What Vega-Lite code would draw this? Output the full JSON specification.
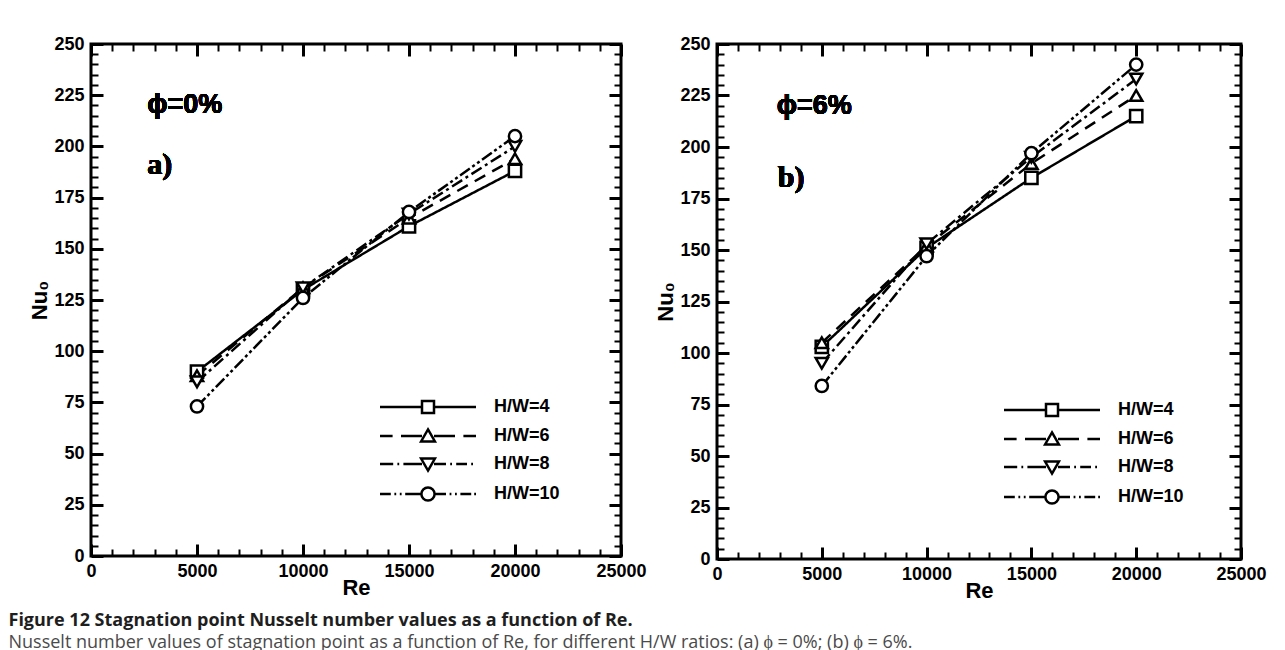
{
  "$schema": "https://vega.github.io/schema/vega-lite/v6.json",
  "padding": {"left": 8, "top": 33, "right": 5, "bottom": 2},
  "background": "white",
  "datasets": {
    "a": [
      {"Re": 5000, "Nu": 90, "HW": "H/W=4"}, {"Re": 10000, "Nu": 130, "HW": "H/W=4"}, {"Re": 15000, "Nu": 161, "HW": "H/W=4"}, {"Re": 20000, "Nu": 188, "HW": "H/W=4"},
      {"Re": 5000, "Nu": 88, "HW": "H/W=6"}, {"Re": 10000, "Nu": 131, "HW": "H/W=6"}, {"Re": 15000, "Nu": 165, "HW": "H/W=6"}, {"Re": 20000, "Nu": 194, "HW": "H/W=6"},
      {"Re": 5000, "Nu": 85, "HW": "H/W=8"}, {"Re": 10000, "Nu": 131, "HW": "H/W=8"}, {"Re": 15000, "Nu": 167, "HW": "H/W=8"}, {"Re": 20000, "Nu": 200, "HW": "H/W=8"},
      {"Re": 5000, "Nu": 73, "HW": "H/W=10"}, {"Re": 10000, "Nu": 126, "HW": "H/W=10"}, {"Re": 15000, "Nu": 168, "HW": "H/W=10"}, {"Re": 20000, "Nu": 205, "HW": "H/W=10"}
    ],
    "b": [
      {"Re": 5000, "Nu": 103, "HW": "H/W=4"}, {"Re": 10000, "Nu": 151, "HW": "H/W=4"}, {"Re": 15000, "Nu": 185, "HW": "H/W=4"}, {"Re": 20000, "Nu": 215, "HW": "H/W=4"},
      {"Re": 5000, "Nu": 105, "HW": "H/W=6"}, {"Re": 10000, "Nu": 152, "HW": "H/W=6"}, {"Re": 15000, "Nu": 192, "HW": "H/W=6"}, {"Re": 20000, "Nu": 225, "HW": "H/W=6"},
      {"Re": 5000, "Nu": 95, "HW": "H/W=8"}, {"Re": 10000, "Nu": 153, "HW": "H/W=8"}, {"Re": 15000, "Nu": 195, "HW": "H/W=8"}, {"Re": 20000, "Nu": 233, "HW": "H/W=8"},
      {"Re": 5000, "Nu": 84, "HW": "H/W=10"}, {"Re": 10000, "Nu": 147, "HW": "H/W=10"}, {"Re": 15000, "Nu": 197, "HW": "H/W=10"}, {"Re": 20000, "Nu": 240, "HW": "H/W=10"}
    ]
  },
  "title": {
    "text": "Figure 12 Stagnation point Nusselt number values as a function of Re.",
    "subtitle": "Nusselt number values of stagnation point as a function of Re, for different H/W ratios: (a) ϕ = 0%; (b) ϕ = 6%.",
    "orient": "bottom", "anchor": "start", "frame": "bounds",
    "font": "Open Sans", "fontSize": 18, "fontWeight": "bold", "color": "#1e1e1e",
    "subtitleFont": "Open Sans", "subtitleFontSize": 18, "subtitleColor": "#4a4a4a", "subtitlePadding": 4,
    "offset": 9
  },
  "bounds": "flush",
  "spacing": 96,
  "hconcat": [
    {
      "width": 530, "height": 512,
      "data": {"name": "a"},
      "resolve": {"axis": {"x": "independent", "y": "independent"}, "scale": {"shape": "independent"}},
      "layer": [
        {
          "mark": {"type": "line", "color": "black", "strokeWidth": 2.5},
          "encoding": {
            "x": {"field": "Re", "type": "quantitative", "scale": {"domain": [0, 25000], "nice": false, "zero": false},
              "axis": {"orient": "bottom", "values": [0, 5000, 10000, 15000, 20000, 25000], "format": "d", "tickSize": -12, "tickWidth": 3, "labelPadding": 18, "title": "Re", "titlePadding": -3, "labelFlush": false, "labelOverlap": false}},
            "y": {"field": "Nu", "type": "quantitative", "scale": {"domain": [0, 250], "nice": false},
              "axis": {"orient": "left", "values": [0, 25, 50, 75, 100, 125, 150, 175, 200, 225, 250], "format": "d", "tickSize": -12, "tickWidth": 3, "labelPadding": 19, "title": "Nu₀", "titlePadding": 2, "labelFlush": false, "labelOverlap": false}},
            "strokeDash": {"field": "HW", "type": "nominal", "scale": {"domain": ["H/W=4", "H/W=6", "H/W=8", "H/W=10"], "range": [[1, 0], [12, 8], [12, 4, 3, 4], [12, 3, 3, 3, 3, 3]]}, "legend": null}
          }
        },
        {
          "mark": {"type": "point", "filled": true, "fill": "white", "stroke": "black", "strokeWidth": 2.5, "size": 150, "opacity": 1},
          "encoding": {
            "x": {"field": "Re", "type": "quantitative", "axis": {"orient": "top", "values": [0, 5000, 10000, 15000, 20000, 25000], "labels": false, "title": null, "tickSize": -12, "tickWidth": 3}},
            "y": {"field": "Nu", "type": "quantitative", "axis": {"orient": "right", "values": [0, 25, 50, 75, 100, 125, 150, 175, 200, 225, 250], "labels": false, "title": null, "tickSize": -12, "tickWidth": 3}},
            "shape": {"field": "HW", "type": "nominal", "scale": {"domain": ["H/W=4", "H/W=6", "H/W=8", "H/W=10"], "range": ["square", "triangle-up", "triangle-down", "circle"]}, "legend": null}
          }
        },
        {
          "mark": {"type": "text", "text": "ϕ=0%", "font": "Liberation Sans", "fontWeight": "bold", "fontSize": 27, "align": "left", "baseline": "middle", "color": "black"},
          "encoding": {
            "x": {"datum": 2650, "type": "quantitative", "axis": {"orient": "bottom", "values": [1000,2000,3000,4000,6000,7000,8000,9000,11000,12000,13000,14000,16000,17000,18000,19000,21000,22000,23000,24000], "labels": false, "title": null, "tickSize": -7, "tickWidth": 2}},
            "y": {"datum": 220, "type": "quantitative", "axis": {"orient": "left", "values": [5,10,15,20,30,35,40,45,55,60,65,70,80,85,90,95,105,110,115,120,130,135,140,145,155,160,165,170,180,185,190,195,205,210,215,220,230,235,240,245], "labels": false, "title": " ", "titleX": -58, "titleY": 256, "tickSize": -7, "tickWidth": 2}}
          }
        },
        {
          "mark": {"type": "text", "text": "a)", "font": "Liberation Serif", "fontWeight": "bold", "fontSize": 30, "align": "left", "baseline": "middle", "color": "black"},
          "encoding": {
            "x": {"datum": 2650, "type": "quantitative", "axis": {"orient": "top", "values": [1000,2000,3000,4000,6000,7000,8000,9000,11000,12000,13000,14000,16000,17000,18000,19000,21000,22000,23000,24000], "labels": false, "title": null, "tickSize": -7, "tickWidth": 2}},
            "y": {"datum": 191, "type": "quantitative", "axis": {"orient": "right", "values": [5,10,15,20,30,35,40,45,55,60,65,70,80,85,90,95,105,110,115,120,130,135,140,145,155,160,165,170,180,185,190,195,205,210,215,220,230,235,240,245], "labels": false, "title": null, "tickSize": -7, "tickWidth": 2}}
          }
        },
        {
          "transform": [{"filter": "false"}],
          "mark": {"type": "point", "filled": false, "color": "black", "size": 144, "strokeWidth": 2.5, "opacity": 1},
          "encoding": {
            "shape": {"field": "HW", "type": "nominal",
              "scale": {"domain": ["H/W=4", "H/W=6", "H/W=8", "H/W=10"],
                "range": [
                  "M-8,0H-1M-1,-1H1V1H-1ZM1,0H8",
                  "M-8,0H-5.9M-4.5,0H-1M0,-1.1L1.15,0.9H-1.15ZM1,0H4.5M5.9,0H8",
                  "M-8,0H-5.8M-5.1,0H-4.8M-4.1,0H-1M0,1.1L1.15,-0.9H-1.15ZM1,0H3M3.7,0H4M4.7,0H6.5M7.2,0H7.5",
                  "M-8,0H-6.2M-5.6,0H-5.3M-4.7,0H-4.4M-3.8,0H-1.1M1.1,0A1.1,1.1 0 1,1 -1.1,0A1.1,1.1 0 1,1 1.1,0M1.1,0H3M3.6,0H3.9M4.5,0H4.8M5.4,0H7.2M7.7,0H8"
                ]},
              "legend": {"orient": "none", "legendX": 280, "legendY": 354, "title": null, "symbolOffset": 48, "labelOffset": 57, "labelFont": "Liberation Sans", "labelFontSize": 18, "labelFontWeight": "bold", "labelColor": "black", "symbolStrokeWidth": 2.5, "symbolStrokeColor": "black", "symbolFillColor": "transparent", "symbolSize": 144, "symbolOpacity": 1, "rowPadding": 6}}
          }
        }
      ]
    },
    {
      "width": 524, "height": 515,
      "data": {"name": "b"},
      "resolve": {"axis": {"x": "independent", "y": "independent"}, "scale": {"shape": "independent"}},
      "layer": [
        {
          "mark": {"type": "line", "color": "black", "strokeWidth": 2.5},
          "encoding": {
            "x": {"field": "Re", "type": "quantitative", "scale": {"domain": [0, 25000], "nice": false, "zero": false},
              "axis": {"orient": "bottom", "values": [0, 5000, 10000, 15000, 20000, 25000], "format": "d", "tickSize": -12, "tickWidth": 3, "labelPadding": 18, "title": "Re", "titlePadding": -3, "labelFlush": false, "labelOverlap": false}},
            "y": {"field": "Nu", "type": "quantitative", "scale": {"domain": [0, 250], "nice": false},
              "axis": {"orient": "left", "values": [0, 25, 50, 75, 100, 125, 150, 175, 200, 225, 250], "format": "d", "tickSize": -12, "tickWidth": 3, "labelPadding": 19, "title": "Nu₀", "titlePadding": 2, "labelFlush": false, "labelOverlap": false}},
            "strokeDash": {"field": "HW", "type": "nominal", "scale": {"domain": ["H/W=4", "H/W=6", "H/W=8", "H/W=10"], "range": [[1, 0], [12, 8], [12, 4, 3, 4], [12, 3, 3, 3, 3, 3]]}, "legend": null}
          }
        },
        {
          "mark": {"type": "point", "filled": true, "fill": "white", "stroke": "black", "strokeWidth": 2.5, "size": 150, "opacity": 1},
          "encoding": {
            "x": {"field": "Re", "type": "quantitative", "axis": {"orient": "top", "values": [0, 5000, 10000, 15000, 20000, 25000], "labels": false, "title": null, "tickSize": -12, "tickWidth": 3}},
            "y": {"field": "Nu", "type": "quantitative", "axis": {"orient": "right", "values": [0, 25, 50, 75, 100, 125, 150, 175, 200, 225, 250], "labels": false, "title": null, "tickSize": -12, "tickWidth": 3}},
            "shape": {"field": "HW", "type": "nominal", "scale": {"domain": ["H/W=4", "H/W=6", "H/W=8", "H/W=10"], "range": ["square", "triangle-up", "triangle-down", "circle"]}, "legend": null}
          }
        },
        {
          "mark": {"type": "text", "text": "ϕ=6%", "font": "Liberation Sans", "fontWeight": "bold", "fontSize": 27, "align": "left", "baseline": "middle", "color": "black"},
          "encoding": {
            "x": {"datum": 2850, "type": "quantitative", "axis": {"orient": "bottom", "values": [1000,2000,3000,4000,6000,7000,8000,9000,11000,12000,13000,14000,16000,17000,18000,19000,21000,22000,23000,24000], "labels": false, "title": null, "tickSize": -7, "tickWidth": 2}},
            "y": {"datum": 220, "type": "quantitative", "axis": {"orient": "left", "values": [5,10,15,20,30,35,40,45,55,60,65,70,80,85,90,95,105,110,115,120,130,135,140,145,155,160,165,170,180,185,190,195,205,210,215,220,230,235,240,245], "labels": false, "title": null, "tickSize": -7, "tickWidth": 2}}
          }
        },
        {
          "mark": {"type": "text", "text": "b)", "font": "Liberation Serif", "fontWeight": "bold", "fontSize": 30, "align": "left", "baseline": "middle", "color": "black"},
          "encoding": {
            "x": {"datum": 2900, "type": "quantitative", "axis": {"orient": "top", "values": [1000,2000,3000,4000,6000,7000,8000,9000,11000,12000,13000,14000,16000,17000,18000,19000,21000,22000,23000,24000], "labels": false, "title": null, "tickSize": -7, "tickWidth": 2}},
            "y": {"datum": 185, "type": "quantitative", "axis": {"orient": "right", "values": [5,10,15,20,30,35,40,45,55,60,65,70,80,85,90,95,105,110,115,120,130,135,140,145,155,160,165,170,180,185,190,195,205,210,215,220,230,235,240,245], "labels": false, "title": null, "tickSize": -7, "tickWidth": 2}}
          }
        },
        {
          "transform": [{"filter": "false"}],
          "mark": {"type": "point", "filled": false, "color": "black", "size": 144, "strokeWidth": 2.5, "opacity": 1},
          "encoding": {
            "shape": {"field": "HW", "type": "nominal",
              "scale": {"domain": ["H/W=4", "H/W=6", "H/W=8", "H/W=10"],
                "range": [
                  "M-8,0H-1M-1,-1H1V1H-1ZM1,0H8",
                  "M-8,0H-5.9M-4.5,0H-1M0,-1.1L1.15,0.9H-1.15ZM1,0H4.5M5.9,0H8",
                  "M-8,0H-5.8M-5.1,0H-4.8M-4.1,0H-1M0,1.1L1.15,-0.9H-1.15ZM1,0H3M3.7,0H4M4.7,0H6.5M7.2,0H7.5",
                  "M-8,0H-6.2M-5.6,0H-5.3M-4.7,0H-4.4M-3.8,0H-1.1M1.1,0A1.1,1.1 0 1,1 -1.1,0A1.1,1.1 0 1,1 1.1,0M1.1,0H3M3.6,0H3.9M4.5,0H4.8M5.4,0H7.2M7.7,0H8"
                ]},
              "legend": {"orient": "none", "legendX": 278, "legendY": 357, "title": null, "symbolOffset": 48, "labelOffset": 57, "labelFont": "Liberation Sans", "labelFontSize": 18, "labelFontWeight": "bold", "labelColor": "black", "symbolStrokeWidth": 2.5, "symbolStrokeColor": "black", "symbolFillColor": "transparent", "symbolSize": 144, "symbolOpacity": 1, "rowPadding": 6}}
          }
        }
      ]
    }
  ],
  "config": {
    "view": {"stroke": "black", "strokeWidth": 3},
    "axis": {"grid": false, "domain": false, "tickColor": "black", "labelFont": "Liberation Sans", "labelFontWeight": "bold", "labelFontSize": 18, "labelColor": "black", "titleFont": "Liberation Sans", "titleFontWeight": "bold", "titleFontSize": 22, "titleColor": "black"}
  }
}
